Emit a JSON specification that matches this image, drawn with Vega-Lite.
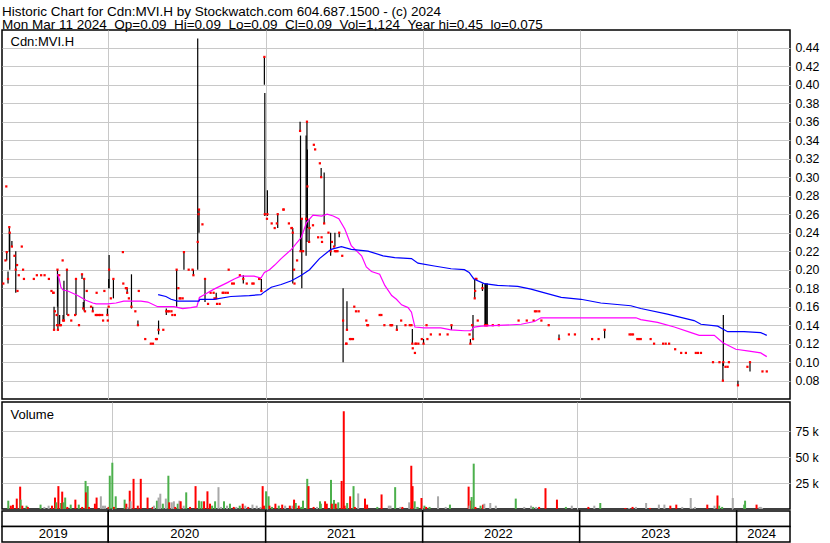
{
"$schema":"https://vega.github.io/schema/vega-lite/v6.json",
"background":"white",
"padding":{"left":1,"top":4,"right":4,"bottom":0},
"title":{"text":["Historic Chart for Cdn:MVI.H by Stockwatch.com 604.687.1500 - (c) 2024","Mon Mar 11 2024\u00a0\u00a0Op=0.09\u00a0\u00a0Hi=0.09\u00a0\u00a0Lo=0.09\u00a0\u00a0Cl=0.09\u00a0\u00a0Vol=1,124\u00a0\u00a0Year hi=0.45\u00a0\u00a0lo=0.075"],"anchor":"start","frame":"group","font":"Liberation Sans","fontSize":13.5,"fontWeight":"normal","color":"black","lineHeight":13,"offset":-2},
"resolve":{"scale":{"color":"independent"}},
"datasets":{
"price":[
{"d":"2019-05-02","c":0.185},{"d":"2019-05-07","c":0.21},{"d":"2019-05-09","c":0.29},
{"d":"2019-05-10","lo":0.21,"hi":0.22,"c":0.219},{"d":"2019-05-13","lo":0.185,"hi":0.198,"c":0.19},
{"d":"2019-05-16","lo":0.219,"hi":0.246,"c":0.246},{"d":"2019-05-17","lo":0.2,"hi":0.24,"c":0.24},
{"d":"2019-05-22","lo":0.225,"hi":0.231,"c":0.225},{"d":"2019-05-28","c":0.215},
{"d":"2019-05-31","lo":0.175,"hi":0.22,"c":0.2},{"d":"2019-06-03","c":0.205},{"d":"2019-06-04","c":0.177},
{"d":"2019-06-07","c":0.194},{"d":"2019-06-14","c":0.225},{"d":"2019-06-17","c":0.2},{"d":"2019-06-19","c":0.19},
{"d":"2019-07-12","c":0.19},{"d":"2019-07-19","c":0.194},{"d":"2019-07-29","c":0.194},{"d":"2019-08-06","c":0.194},
{"d":"2019-08-16","c":0.19},{"d":"2019-08-22","c":0.177},{"d":"2019-08-26","c":0.175},{"d":"2019-08-27","c":0.175},
{"d":"2019-08-28","lo":0.135,"hi":0.16,"c":0.135},{"d":"2019-08-30","c":0.155},{"d":"2019-09-03","c":0.151},
{"d":"2019-09-04","c":0.14},{"d":"2019-09-05","lo":0.16,"hi":0.2,"c":0.2},{"d":"2019-09-06","lo":0.135,"hi":0.195,"c":0.135},
{"d":"2019-09-09","c":0.194},{"d":"2019-09-10","lo":0.14,"hi":0.151,"c":0.14},{"d":"2019-09-13","c":0.14},
{"d":"2019-09-17","c":0.21},{"d":"2019-09-18","lo":0.145,"hi":0.151,"c":0.145},{"d":"2019-09-20","lo":0.145,"hi":0.188,"c":0.145},
{"d":"2019-09-27","lo":0.151,"hi":0.2,"c":0.2},{"d":"2019-09-30","c":0.151},{"d":"2019-10-07","c":0.145},
{"d":"2019-10-16","c":0.151},{"d":"2019-10-18","lo":0.151,"hi":0.19,"c":0.19},{"d":"2019-10-25","c":0.14},
{"d":"2019-11-01","lo":0.19,"hi":0.195,"c":0.195},{"d":"2019-11-04","lo":0.158,"hi":0.165,"c":0.158},
{"d":"2019-11-06","lo":0.155,"hi":0.19,"c":0.19},{"d":"2019-11-08","c":0.155},{"d":"2019-11-12","c":0.177},
{"d":"2019-11-22","c":0.16},{"d":"2019-11-26","lo":0.155,"hi":0.16,"c":0.155},{"d":"2019-12-03","c":0.151},
{"d":"2019-12-05","c":0.175},{"d":"2019-12-06","c":0.151},{"d":"2019-12-10","c":0.151},{"d":"2019-12-13","c":0.151},
{"d":"2019-12-18","c":0.151},{"d":"2019-12-20","c":0.145},{"d":"2019-12-23","c":0.177},
{"d":"2019-12-30","lo":0.151,"hi":0.158,"c":0.151},{"d":"2019-12-31","c":0.145},
{"d":"2020-01-02","lo":0.18,"hi":0.19,"c":0.16},{"d":"2020-01-03","lo":0.18,"hi":0.216,"c":0.2},{"d":"2020-01-07","c":0.169},
{"d":"2020-01-13","lo":0.169,"hi":0.19,"c":0.19},{"d":"2020-02-04","c":0.219},{"d":"2020-02-05","c":0.185},
{"d":"2020-02-11","c":0.18},{"d":"2020-02-13","c":0.18},{"d":"2020-02-14","lo":0.175,"hi":0.18,"c":0.175},
{"d":"2020-02-18","c":0.169},{"d":"2020-02-24","lo":0.158,"hi":0.195,"c":0.16},{"d":"2020-03-04","c":0.155},
{"d":"2020-03-10","lo":0.14,"hi":0.145,"c":0.14},{"d":"2020-03-12","c":0.177},{"d":"2020-03-27","c":0.125},
{"d":"2020-04-09","c":0.12},{"d":"2020-04-14","c":0.12},{"d":"2020-04-21","c":0.125},{"d":"2020-04-23","c":0.125},
{"d":"2020-04-27","lo":0.13,"hi":0.145,"c":0.135},{"d":"2020-05-08","c":0.135},
{"d":"2020-05-15","lo":0.151,"hi":0.158,"c":0.155},{"d":"2020-05-19","c":0.155},{"d":"2020-05-22","c":0.155},
{"d":"2020-05-27","c":0.155},{"d":"2020-05-29","c":0.151},{"d":"2020-06-04","c":0.151},
{"d":"2020-06-08","lo":0.16,"hi":0.2,"c":0.2},{"d":"2020-06-12","c":0.18},{"d":"2020-06-15","c":0.169},
{"d":"2020-06-17","c":0.169},{"d":"2020-06-22","c":0.169},{"d":"2020-06-25","lo":0.2,"hi":0.219,"c":0.219},
{"d":"2020-07-06","c":0.2},{"d":"2020-07-15","c":0.2},{"d":"2020-07-17","lo":0.194,"hi":0.2,"c":0.194},
{"d":"2020-07-27","lo":0.2,"hi":0.45,"c":0.23},{"d":"2020-07-29","c":0.26},{"d":"2020-07-30","lo":0.24,"hi":0.265,"c":0.265},
{"d":"2020-08-07","c":0.249},{"d":"2020-08-13","lo":0.165,"hi":0.19,"c":0.19},{"d":"2020-08-20","c":0.163},
{"d":"2020-08-26","c":0.175},{"d":"2020-09-02","c":0.175},{"d":"2020-09-04","c":0.169},
{"d":"2020-09-08","lo":0.169,"hi":0.175,"c":0.169},{"d":"2020-09-10","c":0.163},{"d":"2020-09-16","c":0.163},
{"d":"2020-09-23","c":0.175},{"d":"2020-09-25","c":0.175},{"d":"2020-09-30","c":0.175},{"d":"2020-10-05","c":0.175},
{"d":"2020-10-07","c":0.2},{"d":"2020-10-15","c":0.185},{"d":"2020-10-19","c":0.185},{"d":"2020-11-02","c":0.194},
{"d":"2020-11-10","lo":0.185,"hi":0.194,"c":0.19},{"d":"2020-11-18","c":0.185},{"d":"2020-12-01","c":0.185},
{"d":"2020-12-04","c":0.185},{"d":"2020-12-17","c":0.19},{"d":"2020-12-18","c":0.19},
{"d":"2020-12-22","lo":0.177,"hi":0.19,"c":0.177},{"d":"2020-12-29","lo":0.4,"hi":0.43,"c":0.43},
{"d":"2020-12-30","lo":0.258,"hi":0.391,"c":0.26},
{"d":"2021-01-04","c":0.255},{"d":"2021-01-05","lo":0.258,"hi":0.286,"c":0.26},{"d":"2021-01-15","c":0.25},
{"d":"2021-01-22","c":0.245},{"d":"2021-01-27","c":0.25},{"d":"2021-01-29","lo":0.245,"hi":0.26,"c":0.26},
{"d":"2021-02-11","c":0.265},{"d":"2021-02-12","c":0.265},{"d":"2021-02-24","c":0.25},{"d":"2021-03-02","c":0.245},
{"d":"2021-03-03","c":0.245},{"d":"2021-03-05","lo":0.185,"hi":0.245,"c":0.24},{"d":"2021-03-08","c":0.2},
{"d":"2021-03-09","c":0.185},{"d":"2021-03-15","c":0.21},{"d":"2021-03-22","lo":0.35,"hi":0.36,"c":0.35},
{"d":"2021-03-23","lo":0.22,"hi":0.345,"c":0.22},{"d":"2021-03-26","lo":0.18,"hi":0.256,"c":0.255},
{"d":"2021-03-29","c":0.22},{"d":"2021-04-05","lo":0.215,"hi":0.345,"c":0.255},
{"d":"2021-04-07","lo":0.23,"hi":0.36,"c":0.36},{"d":"2021-04-08","lo":0.245,"hi":0.33,"c":0.29},
{"d":"2021-04-12","lo":0.23,"hi":0.255,"c":0.23},{"d":"2021-04-13","c":0.245},{"d":"2021-04-21","c":0.248},
{"d":"2021-04-23","c":0.335},{"d":"2021-04-26","c":0.33},{"d":"2021-05-03","c":0.235},{"d":"2021-05-07","c":0.315},
{"d":"2021-05-10","lo":0.3,"hi":0.31,"c":0.3},{"d":"2021-05-11","c":0.235},{"d":"2021-05-12","c":0.23},
{"d":"2021-05-17","lo":0.25,"hi":0.305,"c":0.25},{"d":"2021-05-27","c":0.24},
{"d":"2021-06-01","lo":0.215,"hi":0.24,"c":0.22},{"d":"2021-06-04","c":0.23},{"d":"2021-06-09","c":0.225},
{"d":"2021-06-11","lo":0.225,"hi":0.24,"c":0.22},{"d":"2021-06-14","c":0.22},{"d":"2021-06-17","c":0.22},
{"d":"2021-06-21","lo":0.235,"hi":0.24,"c":0.24},{"d":"2021-06-28","c":0.215},
{"d":"2021-06-30","lo":0.1,"hi":0.18,"c":0.145},{"d":"2021-07-07","c":0.12},{"d":"2021-07-08","c":0.12},
{"d":"2021-07-09","lo":0.135,"hi":0.166,"c":0.135},{"d":"2021-07-16","c":0.125},{"d":"2021-07-19","c":0.125},
{"d":"2021-07-23","c":0.125},{"d":"2021-07-26","c":0.16},{"d":"2021-07-30","c":0.155},{"d":"2021-08-05","c":0.155},
{"d":"2021-08-23","c":0.145},{"d":"2021-08-25","c":0.14},{"d":"2021-08-27","c":0.14},{"d":"2021-09-23","c":0.151},
{"d":"2021-09-27","c":0.151},{"d":"2021-10-04","c":0.14},{"d":"2021-10-18","c":0.14},{"d":"2021-10-20","c":0.14},
{"d":"2021-10-22","c":0.14},{"d":"2021-11-02","lo":0.135,"hi":0.14,"c":0.135},{"d":"2021-11-12","c":0.145},
{"d":"2021-11-22","c":0.14},{"d":"2021-12-02","c":0.14},{"d":"2021-12-06","c":0.14},
{"d":"2021-12-08","lo":0.12,"hi":0.136,"c":0.12},{"d":"2021-12-09","c":0.115},{"d":"2021-12-14","c":0.11},
{"d":"2021-12-15","c":0.12},{"d":"2021-12-17","c":0.12},{"d":"2021-12-22","c":0.12},{"d":"2021-12-30","c":0.125},
{"d":"2022-01-03","lo":0.12,"hi":0.125,"c":0.12},{"d":"2022-01-10","c":0.14},{"d":"2022-01-12","c":0.125},
{"d":"2022-01-20","c":0.13},{"d":"2022-02-10","c":0.13},{"d":"2022-02-28","c":0.13},
{"d":"2022-03-09","lo":0.135,"hi":0.14,"c":0.14},{"d":"2022-04-20","c":0.13},
{"d":"2022-04-22","lo":0.12,"hi":0.125,"c":0.12},{"d":"2022-04-26","c":0.14},
{"d":"2022-04-28","lo":0.125,"hi":0.151,"c":0.125},{"d":"2022-05-02","lo":0.169,"hi":0.19,"c":0.169},
{"d":"2022-05-03","c":0.177},{"d":"2022-05-04","c":0.19},{"d":"2022-05-06","c":0.19},{"d":"2022-05-09","c":0.145},
{"d":"2022-05-20","lo":0.177,"hi":0.185,"c":0.18},{"d":"2022-05-26","lo":0.14,"hi":0.185,"c":0.14},
{"d":"2022-05-27","lo":0.14,"hi":0.185,"c":0.14},{"d":"2022-05-30","lo":0.14,"hi":0.185,"c":0.14},
{"d":"2022-05-31","lo":0.14,"hi":0.185,"c":0.14},{"d":"2022-06-13","c":0.14},{"d":"2022-06-27","c":0.14},
{"d":"2022-08-12","c":0.145},{"d":"2022-08-31","c":0.145},{"d":"2022-09-16","c":0.145},{"d":"2022-09-19","c":0.155},
{"d":"2022-09-23","c":0.155},{"d":"2022-09-29","c":0.155},{"d":"2022-10-04","c":0.145},{"d":"2022-10-21","c":0.14},
{"d":"2022-11-14","lo":0.125,"hi":0.13,"c":0.125},{"d":"2022-12-07","c":0.13},{"d":"2022-12-21","c":0.13},
{"d":"2023-01-30","c":0.125},{"d":"2023-02-14","c":0.125},{"d":"2023-02-28","lo":0.126,"hi":0.136,"c":0.135},
{"d":"2023-04-27","c":0.13},{"d":"2023-05-01","c":0.13},{"d":"2023-05-05","c":0.13},{"d":"2023-05-15","c":0.125},
{"d":"2023-05-19","c":0.125},{"d":"2023-05-23","c":0.125},{"d":"2023-06-15","c":0.125},{"d":"2023-06-23","c":0.12},
{"d":"2023-07-14","c":0.12},{"d":"2023-07-20","c":0.12},{"d":"2023-07-28","c":0.12},{"d":"2023-08-11","c":0.114},
{"d":"2023-08-25","c":0.11},{"d":"2023-09-05","c":0.11},{"d":"2023-09-28","c":0.11},{"d":"2023-10-03","c":0.11},
{"d":"2023-10-10","c":0.11},{"d":"2023-11-07","c":0.1},{"d":"2023-11-22","c":0.1},
{"d":"2023-11-30","lo":0.08,"hi":0.1,"c":0.08},{"d":"2023-12-01","lo":0.096,"hi":0.151,"c":0.1},
{"d":"2023-12-06","c":0.095},{"d":"2023-12-11","c":0.095},{"d":"2023-12-14","c":0.1},
{"d":"2024-01-04","lo":0.075,"hi":0.08,"c":0.075},{"d":"2024-01-26","c":0.095},
{"d":"2024-02-01","lo":0.09,"hi":0.1,"c":0.1},{"d":"2024-03-01","c":0.09},{"d":"2024-03-11","c":0.09}
],
"ma":[
{"s":"fast","d":"2019-09-05","v":0.195},{"s":"fast","d":"2019-09-09","v":0.19},{"s":"fast","d":"2019-09-13","v":0.181},
{"s":"fast","d":"2019-09-18","v":0.178},{"s":"fast","d":"2019-09-29","v":0.177},{"s":"fast","d":"2019-10-22","v":0.172},
{"s":"fast","d":"2019-11-10","v":0.167},{"s":"fast","d":"2019-11-26","v":0.164},{"s":"fast","d":"2019-12-04","v":0.163},
{"s":"fast","d":"2019-12-31","v":0.163},{"s":"fast","d":"2020-01-19","v":0.164},{"s":"fast","d":"2020-02-06","v":0.166},
{"s":"fast","d":"2020-02-23","v":0.166},{"s":"fast","d":"2020-03-17","v":0.166},{"s":"fast","d":"2020-04-02","v":0.165},
{"s":"fast","d":"2020-04-25","v":0.16},{"s":"fast","d":"2020-06-02","v":0.16},{"s":"fast","d":"2020-06-22","v":0.158},
{"s":"fast","d":"2020-07-11","v":0.159},{"s":"fast","d":"2020-07-25","v":0.16},{"s":"fast","d":"2020-07-31","v":0.17},
{"s":"fast","d":"2020-08-11","v":0.173},{"s":"fast","d":"2020-09-03","v":0.179},{"s":"fast","d":"2020-10-04","v":0.186},
{"s":"fast","d":"2020-10-20","v":0.19},{"s":"fast","d":"2020-11-04","v":0.193},{"s":"fast","d":"2020-12-05","v":0.193},
{"s":"fast","d":"2020-12-21","v":0.191},{"s":"fast","d":"2020-12-29","v":0.197},{"s":"fast","d":"2021-01-10","v":0.2},
{"s":"fast","d":"2021-01-22","v":0.205},{"s":"fast","d":"2021-02-06","v":0.212},{"s":"fast","d":"2021-03-02","v":0.222},
{"s":"fast","d":"2021-03-25","v":0.235},{"s":"fast","d":"2021-04-06","v":0.251},{"s":"fast","d":"2021-04-21","v":0.259},
{"s":"fast","d":"2021-05-11","v":0.258},{"s":"fast","d":"2021-05-24","v":0.26},{"s":"fast","d":"2021-06-07","v":0.258},
{"s":"fast","d":"2021-06-20","v":0.255},{"s":"fast","d":"2021-07-04","v":0.244},{"s":"fast","d":"2021-07-19","v":0.226},
{"s":"fast","d":"2021-08-12","v":0.215},{"s":"fast","d":"2021-08-23","v":0.203},{"s":"fast","d":"2021-09-04","v":0.198},
{"s":"fast","d":"2021-09-23","v":0.195},{"s":"fast","d":"2021-10-05","v":0.183},{"s":"fast","d":"2021-10-21","v":0.172},
{"s":"fast","d":"2021-11-01","v":0.168},{"s":"fast","d":"2021-11-13","v":0.162},{"s":"fast","d":"2021-11-28","v":0.159},
{"s":"fast","d":"2021-12-06","v":0.154},{"s":"fast","d":"2021-12-14","v":0.138},{"s":"fast","d":"2022-01-04","v":0.137},
{"s":"fast","d":"2022-02-12","v":0.137},{"s":"fast","d":"2022-03-08","v":0.135},{"s":"fast","d":"2022-04-08","v":0.134},
{"s":"fast","d":"2022-04-23","v":0.134},{"s":"fast","d":"2022-05-01","v":0.138},{"s":"fast","d":"2022-05-17","v":0.139},
{"s":"fast","d":"2022-07-10","v":0.14},{"s":"fast","d":"2022-08-18","v":0.141},{"s":"fast","d":"2022-09-18","v":0.144},
{"s":"fast","d":"2022-10-03","v":0.148},{"s":"fast","d":"2023-02-19","v":0.148},{"s":"fast","d":"2023-05-12","v":0.148},
{"s":"fast","d":"2023-05-23","v":0.146},{"s":"fast","d":"2023-07-01","v":0.143},{"s":"fast","d":"2023-08-09","v":0.138},
{"s":"fast","d":"2023-09-17","v":0.132},{"s":"fast","d":"2023-10-06","v":0.129},{"s":"fast","d":"2023-11-10","v":0.129},
{"s":"fast","d":"2023-11-30","v":0.121},{"s":"fast","d":"2023-12-30","v":0.114},{"s":"fast","d":"2024-01-30","v":0.112},
{"s":"fast","d":"2024-02-26","v":0.11},{"s":"fast","d":"2024-03-11","v":0.106},
{"s":"slow","d":"2020-04-26","v":0.173},{"s":"slow","d":"2020-05-14","v":0.171},{"s":"slow","d":"2020-05-26","v":0.168},
{"s":"slow","d":"2020-06-10","v":0.166},{"s":"slow","d":"2020-07-30","v":0.166},{"s":"slow","d":"2020-08-01","v":0.168},
{"s":"slow","d":"2020-09-03","v":0.168},{"s":"slow","d":"2020-10-12","v":0.171},{"s":"slow","d":"2020-11-24","v":0.172},
{"s":"slow","d":"2020-12-21","v":0.173},{"s":"slow","d":"2020-12-29","v":0.176},{"s":"slow","d":"2021-01-14","v":0.181},
{"s":"slow","d":"2021-02-06","v":0.184},{"s":"slow","d":"2021-03-02","v":0.188},{"s":"slow","d":"2021-03-25","v":0.194},
{"s":"slow","d":"2021-04-13","v":0.2},{"s":"slow","d":"2021-05-06","v":0.212},{"s":"slow","d":"2021-06-02","v":0.222},
{"s":"slow","d":"2021-06-26","v":0.225},{"s":"slow","d":"2021-07-19","v":0.222},{"s":"slow","d":"2021-08-27","v":0.22},
{"s":"slow","d":"2021-10-01","v":0.215},{"s":"slow","d":"2021-10-28","v":0.213},{"s":"slow","d":"2021-12-06","v":0.212},
{"s":"slow","d":"2021-12-21","v":0.207},{"s":"slow","d":"2022-01-28","v":0.204},{"s":"slow","d":"2022-03-08","v":0.201},
{"s":"slow","d":"2022-04-08","v":0.2},{"s":"slow","d":"2022-04-19","v":0.197},{"s":"slow","d":"2022-04-30","v":0.19},
{"s":"slow","d":"2022-05-24","v":0.185},{"s":"slow","d":"2022-06-24","v":0.183},{"s":"slow","d":"2022-08-10","v":0.182},
{"s":"slow","d":"2022-09-10","v":0.179},{"s":"slow","d":"2022-10-03","v":0.176},{"s":"slow","d":"2022-11-19","v":0.17},
{"s":"slow","d":"2023-01-04","v":0.168},{"s":"slow","d":"2023-02-19","v":0.164},{"s":"slow","d":"2023-04-30","v":0.161},
{"s":"slow","d":"2023-05-23","v":0.158},{"s":"slow","d":"2023-07-24","v":0.152},{"s":"slow","d":"2023-09-24","v":0.145},
{"s":"slow","d":"2023-10-10","v":0.141},{"s":"slow","d":"2023-11-18","v":0.139},{"s":"slow","d":"2023-12-11","v":0.133},
{"s":"slow","d":"2024-01-18","v":0.133},{"s":"slow","d":"2024-02-26","v":0.132},{"s":"slow","d":"2024-03-11","v":0.129}
],
"vol":[
{"d":"2019-05-02","v":8000,"t":"up"},{"d":"2019-05-08","v":3200,"t":"down"},{"d":"2019-05-13","v":4000,"t":"down"},
{"d":"2019-05-22","v":10000,"t":"down"},{"d":"2019-05-30","v":21500,"t":"down"},{"d":"2019-05-31","v":9000,"t":"up"},
{"d":"2019-06-04","v":3200,"t":"down"},{"d":"2019-06-14","v":3200,"t":"up"},{"d":"2019-06-17","v":2000,"t":"down"},
{"d":"2019-07-17","v":4200,"t":"up"},{"d":"2019-07-26","v":2000,"t":"flat"},{"d":"2019-08-05","v":3200,"t":"flat"},
{"d":"2019-08-13","v":3200,"t":"down"},{"d":"2019-08-20","v":11000,"t":"down"},{"d":"2019-08-23","v":6400,"t":"up"},
{"d":"2019-08-28","v":22000,"t":"down"},{"d":"2019-09-03","v":5800,"t":"up"},{"d":"2019-09-06","v":16700,"t":"down"},
{"d":"2019-09-09","v":6400,"t":"up"},{"d":"2019-09-13","v":11000,"t":"up"},{"d":"2019-09-18","v":2000,"t":"down"},
{"d":"2019-09-26","v":4200,"t":"up"},{"d":"2019-10-07","v":9000,"t":"down"},{"d":"2019-10-15","v":4200,"t":"up"},
{"d":"2019-10-23","v":2000,"t":"down"},{"d":"2019-10-31","v":27000,"t":"up"},{"d":"2019-11-01","v":16000,"t":"down"},
{"d":"2019-11-05","v":22000,"t":"up"},{"d":"2019-11-08","v":2000,"t":"down"},{"d":"2019-11-22","v":5100,"t":"down"},
{"d":"2019-11-26","v":11000,"t":"down"},{"d":"2019-12-06","v":12200,"t":"flat"},{"d":"2019-12-11","v":3200,"t":"flat"},
{"d":"2019-12-16","v":3200,"t":"flat"},{"d":"2019-12-24","v":2000,"t":"down"},{"d":"2019-12-27","v":32000,"t":"up"},
{"d":"2020-01-02","v":44500,"t":"up"},{"d":"2020-01-06","v":2000,"t":"down"},{"d":"2020-01-10","v":12200,"t":"up"},
{"d":"2020-01-31","v":9000,"t":"up"},{"d":"2020-02-04","v":5100,"t":"down"},{"d":"2020-02-07","v":2000,"t":"flat"},
{"d":"2020-02-12","v":17600,"t":"down"},{"d":"2020-02-14","v":7400,"t":"flat"},{"d":"2020-02-21","v":29000,"t":"down"},
{"d":"2020-03-02","v":3200,"t":"down"},{"d":"2020-03-09","v":29000,"t":"down"},{"d":"2020-03-25","v":11000,"t":"down"},
{"d":"2020-04-06","v":2000,"t":"down"},{"d":"2020-04-09","v":3200,"t":"flat"},{"d":"2020-04-16","v":8000,"t":"up"},
{"d":"2020-04-20","v":11000,"t":"flat"},{"d":"2020-04-24","v":14700,"t":"flat"},{"d":"2020-04-30","v":5100,"t":"up"},
{"d":"2020-05-07","v":10000,"t":"flat"},{"d":"2020-05-13","v":32000,"t":"up"},{"d":"2020-05-15","v":6400,"t":"down"},
{"d":"2020-05-21","v":6400,"t":"flat"},{"d":"2020-05-26","v":7400,"t":"flat"},{"d":"2020-05-29","v":2000,"t":"down"},
{"d":"2020-06-04","v":5100,"t":"up"},{"d":"2020-06-08","v":8000,"t":"flat"},{"d":"2020-06-11","v":7400,"t":"down"},
{"d":"2020-06-18","v":3200,"t":"flat"},{"d":"2020-06-24","v":16000,"t":"up"},{"d":"2020-07-03","v":2000,"t":"down"},
{"d":"2020-07-16","v":22000,"t":"down"},{"d":"2020-07-24","v":8000,"t":"up"},{"d":"2020-07-30","v":7400,"t":"up"},
{"d":"2020-08-05","v":7400,"t":"down"},{"d":"2020-08-13","v":17000,"t":"down"},{"d":"2020-08-19","v":5100,"t":"down"},
{"d":"2020-08-24","v":3200,"t":"up"},{"d":"2020-08-31","v":7400,"t":"up"},{"d":"2020-09-08","v":21000,"t":"flat"},
{"d":"2020-09-14","v":2000,"t":"flat"},{"d":"2020-09-21","v":7400,"t":"up"},{"d":"2020-09-28","v":3200,"t":"flat"},
{"d":"2020-10-05","v":5100,"t":"up"},{"d":"2020-10-14","v":2000,"t":"down"},{"d":"2020-10-20","v":2000,"t":"flat"},
{"d":"2020-10-28","v":3200,"t":"up"},{"d":"2020-11-04","v":5100,"t":"down"},{"d":"2020-11-10","v":3200,"t":"flat"},
{"d":"2020-11-17","v":2000,"t":"down"},{"d":"2020-11-27","v":4200,"t":"flat"},{"d":"2020-12-07","v":3200,"t":"flat"},
{"d":"2020-12-16","v":2000,"t":"flat"},{"d":"2020-12-21","v":22000,"t":"down"},{"d":"2020-12-24","v":3200,"t":"down"},
{"d":"2020-12-29","v":17000,"t":"up"},{"d":"2021-01-04","v":12200,"t":"up"},{"d":"2021-01-06","v":3200,"t":"down"},
{"d":"2021-01-12","v":2000,"t":"up"},{"d":"2021-01-20","v":5100,"t":"down"},{"d":"2021-01-28","v":3200,"t":"up"},
{"d":"2021-02-05","v":4200,"t":"down"},{"d":"2021-02-12","v":3200,"t":"flat"},{"d":"2021-02-23","v":3200,"t":"down"},
{"d":"2021-03-01","v":3200,"t":"flat"},{"d":"2021-03-05","v":9000,"t":"down"},{"d":"2021-03-09","v":5800,"t":"up"},
{"d":"2021-03-16","v":3200,"t":"down"},{"d":"2021-03-22","v":2000,"t":"up"},{"d":"2021-03-26","v":8000,"t":"up"},
{"d":"2021-04-05","v":29000,"t":"up"},{"d":"2021-04-08","v":22000,"t":"down"},{"d":"2021-04-20","v":2000,"t":"down"},
{"d":"2021-04-28","v":2000,"t":"flat"},{"d":"2021-05-05","v":7400,"t":"up"},{"d":"2021-05-07","v":5100,"t":"up"},
{"d":"2021-05-17","v":7400,"t":"down"},{"d":"2021-05-21","v":5100,"t":"down"},{"d":"2021-05-31","v":28000,"t":"up"},
{"d":"2021-06-02","v":5100,"t":"down"},{"d":"2021-06-07","v":8700,"t":"up"},{"d":"2021-06-11","v":5100,"t":"down"},
{"d":"2021-06-17","v":6400,"t":"up"},{"d":"2021-06-25","v":27000,"t":"down"},{"d":"2021-06-30","v":94000,"t":"down"},
{"d":"2021-07-02","v":3200,"t":"down"},{"d":"2021-07-08","v":5800,"t":"up"},{"d":"2021-07-15","v":12200,"t":"down"},
{"d":"2021-07-23","v":22000,"t":"up"},{"d":"2021-07-26","v":2000,"t":"down"},{"d":"2021-08-03","v":15000,"t":"flat"},
{"d":"2021-08-19","v":10000,"t":"down"},{"d":"2021-08-24","v":4200,"t":"down"},{"d":"2021-09-17","v":2000,"t":"up"},
{"d":"2021-09-27","v":14000,"t":"down"},{"d":"2021-10-14","v":3200,"t":"flat"},{"d":"2021-10-18","v":3200,"t":"flat"},
{"d":"2021-10-29","v":21000,"t":"up"},{"d":"2021-11-10","v":2000,"t":"flat"},{"d":"2021-11-15","v":2000,"t":"down"},
{"d":"2021-12-01","v":6400,"t":"flat"},{"d":"2021-12-06","v":41600,"t":"down"},{"d":"2021-12-09","v":22000,"t":"down"},
{"d":"2021-12-14","v":7400,"t":"up"},{"d":"2021-12-17","v":2000,"t":"flat"},{"d":"2021-12-21","v":2000,"t":"up"},
{"d":"2021-12-30","v":10600,"t":"down"},{"d":"2022-01-06","v":3200,"t":"up"},{"d":"2022-01-10","v":2000,"t":"down"},
{"d":"2022-01-18","v":2000,"t":"up"},{"d":"2022-02-07","v":12200,"t":"flat"},{"d":"2022-02-25","v":2000,"t":"flat"},
{"d":"2022-03-07","v":4200,"t":"up"},{"d":"2022-04-20","v":21500,"t":"down"},{"d":"2022-04-22","v":3200,"t":"flat"},
{"d":"2022-04-26","v":8000,"t":"down"},{"d":"2022-04-27","v":11500,"t":"up"},{"d":"2022-05-02","v":43600,"t":"up"},
{"d":"2022-05-06","v":2000,"t":"down"},{"d":"2022-05-18","v":3200,"t":"up"},{"d":"2022-05-24","v":4200,"t":"down"},
{"d":"2022-05-27","v":5100,"t":"flat"},{"d":"2022-06-10","v":5800,"t":"flat"},{"d":"2022-06-23","v":3200,"t":"flat"},
{"d":"2022-08-09","v":10000,"t":"up"},{"d":"2022-08-29","v":2000,"t":"flat"},{"d":"2022-09-14","v":3200,"t":"flat"},
{"d":"2022-09-19","v":2000,"t":"up"},{"d":"2022-09-26","v":2000,"t":"flat"},{"d":"2022-10-03","v":2000,"t":"down"},
{"d":"2022-10-18","v":20000,"t":"down"},{"d":"2022-11-14","v":9000,"t":"down"},{"d":"2022-12-05","v":2000,"t":"up"},
{"d":"2022-12-19","v":3200,"t":"flat"},{"d":"2023-01-27","v":2000,"t":"down"},{"d":"2023-02-10","v":3200,"t":"flat"},
{"d":"2023-02-24","v":5800,"t":"up"},{"d":"2023-04-24","v":1000,"t":"down"},{"d":"2023-05-03","v":1000,"t":"flat"},
{"d":"2023-05-11","v":2000,"t":"down"},{"d":"2023-05-19","v":2000,"t":"flat"},{"d":"2023-06-12","v":5800,"t":"flat"},
{"d":"2023-06-21","v":1000,"t":"down"},{"d":"2023-07-12","v":4200,"t":"flat"},{"d":"2023-07-25","v":4200,"t":"flat"},
{"d":"2023-08-08","v":3200,"t":"down"},{"d":"2023-08-22","v":4200,"t":"down"},{"d":"2023-09-05","v":2000,"t":"flat"},
{"d":"2023-09-25","v":10600,"t":"flat"},{"d":"2023-09-29","v":1000,"t":"flat"},{"d":"2023-10-05","v":2000,"t":"flat"},
{"d":"2023-11-03","v":4200,"t":"down"},{"d":"2023-11-20","v":3200,"t":"flat"},{"d":"2023-11-27","v":13000,"t":"down"},
{"d":"2023-12-01","v":3200,"t":"up"},{"d":"2023-12-08","v":2000,"t":"up"},{"d":"2024-01-02","v":10600,"t":"flat"},
{"d":"2024-01-29","v":4200,"t":"up"},{"d":"2024-01-31","v":8000,"t":"up"},{"d":"2024-02-27","v":4200,"t":"down"},
{"d":"2024-03-05","v":2000,"t":"flat"},{"d":"2024-03-08","v":2000,"t":"flat"},{"d":"2024-03-11","v":1124,"t":"flat"}
],
"years":[
{"row":"r1","start":"2019-04-29","end":"2020-01-01","mid":"2019-08-26","label":""},
{"row":"r1","start":"2020-01-01","end":"2021-01-01","mid":"2020-06-27","label":""},
{"row":"r1","start":"2021-01-01","end":"2022-01-01","mid":"2021-06-26","label":""},
{"row":"r1","start":"2022-01-01","end":"2023-01-01","mid":"2022-06-26","label":""},
{"row":"r1","start":"2023-01-01","end":"2024-01-01","mid":"2023-06-27","label":""},
{"row":"r1","start":"2024-01-01","end":"2024-05-04","mid":"2024-02-28","label":""},
{"row":"r2","start":"2019-04-29","end":"2020-01-01","mid":"2019-08-26","label":"2019"},
{"row":"r2","start":"2020-01-01","end":"2021-01-01","mid":"2020-06-27","label":"2020"},
{"row":"r2","start":"2021-01-01","end":"2022-01-01","mid":"2021-06-26","label":"2021"},
{"row":"r2","start":"2022-01-01","end":"2023-01-01","mid":"2022-06-26","label":"2022"},
{"row":"r2","start":"2023-01-01","end":"2024-01-01","mid":"2023-06-27","label":"2023"},
{"row":"r2","start":"2024-01-01","end":"2024-05-04","mid":"2024-02-28","label":"2024"}
]
},
"spacing":1,
"vconcat":[
{
"width":788,"height":369,
"layer":[
{"data":{"name":"price"},"transform":[{"filter":"isValid(datum.hi)"}],
"mark":{"type":"rule","color":"black","strokeWidth":1.2},
"encoding":{
"x":{"field":"d","type":"temporal","scale":{"type":"utc","domain":[{"year":2019,"month":4,"date":29,"utc":true},{"year":2024,"month":5,"date":4,"utc":true}]},
"axis":{"orient":"top","values":[{"year":2020,"month":1,"date":1,"utc":true},{"year":2021,"month":1,"date":1,"utc":true},{"year":2022,"month":1,"date":1,"utc":true},{"year":2023,"month":1,"date":1,"utc":true},{"year":2024,"month":1,"date":1,"utc":true}],"tickCount":40,"grid":true,"labels":false,"ticks":false,"domain":false,
"title":"Cdn:MVI.H","titleX":8,"titleY":15,"titleAlign":"left","titleAnchor":"start","titleBaseline":"alphabetic","titleAngle":0,"titleFont":"Liberation Sans","titleFontSize":13,"titleFontWeight":"normal","titleColor":"black"}},
"y":{"field":"lo","type":"quantitative","scale":{"domain":[0.0602,0.4591],"nice":false,"zero":false},
"axis":{"orient":"right","values":[0.08,0.1,0.12,0.14,0.16,0.18,0.2,0.22,0.24,0.26,0.28,0.3,0.32,0.34,0.36,0.38,0.4,0.42,0.44],"tickCount":40,"format":".2f","grid":true,"ticks":false,"domain":false,"labelPadding":5,"labelOverlap":false,"title":null}},
"y2":{"field":"hi"}}},
{"data":{"name":"price"},"mark":{"type":"square","color":"#ff0000","size":5,"filled":true,"opacity":1},
"encoding":{"x":{"field":"d","type":"temporal"},"y":{"field":"c","type":"quantitative"}}},
{"data":{"name":"ma"},"mark":{"type":"line","strokeWidth":1.2},
"encoding":{"x":{"field":"d","type":"temporal"},"y":{"field":"v","type":"quantitative"},
"color":{"field":"s","type":"nominal","scale":{"domain":["fast","slow"],"range":["#ff00ff","#0000ff"]},"legend":null}}}
]
},
{
"spacing":0,
"resolve":{"scale":{"color":"independent"}},
"vconcat":[
{
"width":788,"height":107,
"data":{"name":"vol"},
"mark":{"type":"bar","width":2},
"encoding":{
"x":{"field":"d","type":"temporal","scale":{"type":"utc","domain":[{"year":2019,"month":4,"date":29,"utc":true},{"year":2024,"month":5,"date":4,"utc":true}]},
"axis":{"orient":"top","values":[{"year":2020,"month":1,"date":1,"utc":true},{"year":2021,"month":1,"date":1,"utc":true},{"year":2022,"month":1,"date":1,"utc":true},{"year":2023,"month":1,"date":1,"utc":true},{"year":2024,"month":1,"date":1,"utc":true}],"tickCount":40,"grid":true,"labels":false,"ticks":false,"domain":false,
"title":"Volume","titleX":8,"titleY":16,"titleAlign":"left","titleAnchor":"start","titleBaseline":"alphabetic","titleAngle":0,"titleFont":"Liberation Sans","titleFontSize":13,"titleFontWeight":"normal","titleColor":"black"}},
"y":{"field":"v","type":"quantitative","scale":{"domain":[0,102900],"nice":false},
"axis":{"orient":"right","values":[25000,50000,75000],"tickCount":40,"labelExpr":"(datum.value/1000) + ' k'","grid":true,"ticks":false,"domain":false,"labelPadding":5,"labelOverlap":false,"title":null}},
"color":{"field":"t","type":"nominal","scale":{"domain":["up","down","flat"],"range":["#4cb04c","#ff0000","#a8a8a8"]},"legend":null}
}
},
{
"width":788,"height":31,
"view":{"stroke":null},
"layer":[
{"data":{"name":"years"},"mark":{"type":"rect","fill":"white","stroke":"black","strokeWidth":1.5},
"encoding":{
"x":{"field":"start","type":"temporal","scale":{"type":"utc","domain":[{"year":2019,"month":4,"date":29,"utc":true},{"year":2024,"month":5,"date":4,"utc":true}]},"axis":null},
"x2":{"field":"end"},
"y":{"field":"row","type":"nominal","axis":null,"scale":{"paddingInner":0,"paddingOuter":0}}}},
{"data":{"name":"years"},"mark":{"type":"text","font":"Liberation Sans","fontSize":13,"color":"black","baseline":"middle","align":"center"},
"encoding":{"x":{"field":"mid","type":"temporal"},"y":{"field":"row","type":"nominal"},"text":{"field":"label"}}}
]
}
]
}
],
"config":{
"view":{"stroke":"black","strokeWidth":1.5},
"axis":{"gridColor":"#c8c8c8","gridWidth":1,"gridOpacity":1,"labelFont":"Liberation Sans","labelFontSize":12.3,"labelColor":"black"}
}
}
